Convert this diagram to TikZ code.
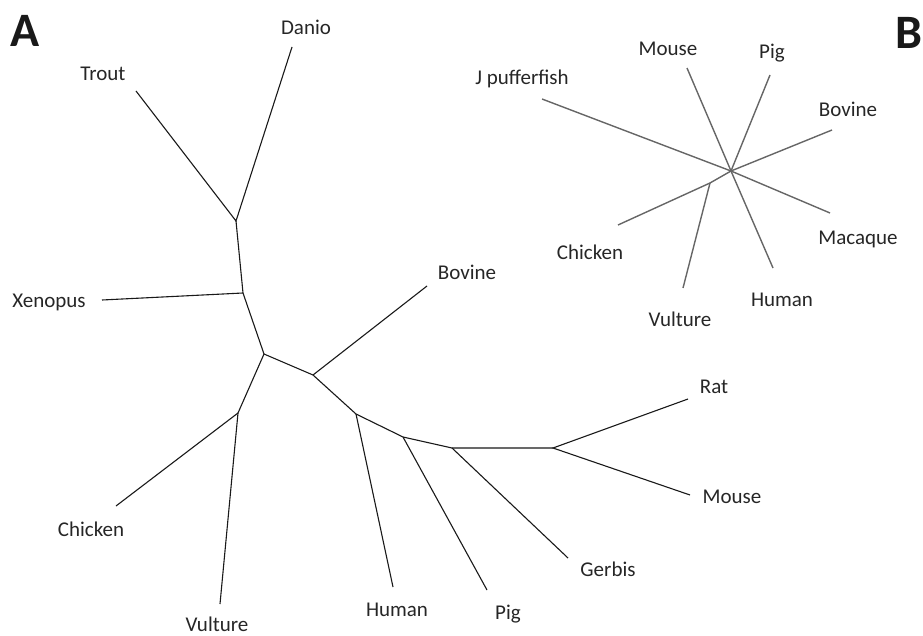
\documentclass[tikz,border=0pt]{standalone}
\usepackage{fontspec}
\setmainfont{Carlito}

\begin{document}
\begin{tikzpicture}[x=1pt,y=-1pt,
            lab/.style={font=\fontsize{21}{24}\selectfont, text=black!85, inner sep=0pt},
            tag/.style={font=\fontsize{48}{50}\selectfont\bfseries, text=black!90, inner sep=0pt},
            br/.style={line width=1.1pt, black!90},
            sb/.style={line width=1.4pt, black!60}]
            \useasboundingbox (0,0) rectangle (923,636);
            \node [tag] (pa) at (25,31) {A};
            \node [tag] (pb) at (909,33) {B};

            \coordinate (a1) at (236,221);
            \coordinate (a2) at (243,293);
            \coordinate (a3) at (264,354);
            \coordinate (a4) at (313,375);
            \coordinate (a5) at (238,413);
            \coordinate (a6) at (356,414);
            \coordinate (a7) at (403,437);
            \coordinate (a8) at (452,448);
            \coordinate (a9) at (553,448);
            \coordinate (danio-t) at (292,47);
            \coordinate (trout-t) at (136,91);
            \coordinate (xenopus-t) at (102,300);
            \coordinate (bovine-t) at (427,286);
            \coordinate (chicken-t) at (116,506);
            \coordinate (vulture-t) at (220,604);
            \coordinate (human-t) at (393,587);
            \coordinate (pig-t) at (487,590);
            \coordinate (gerbis-t) at (568,558);
            \coordinate (rat-t) at (688,399);
            \coordinate (mouse-t) at (690,495);
            \node [lab] (danio) at (306,27) {Danio};
            \node [lab] (trout) at (103,74) {Trout};
            \node [lab] (xenopus) at (49,302) {Xenopus};
            \node [lab] (bovine) at (467,272) {Bovine};
            \node [lab] (chicken) at (91,529) {Chicken};
            \node [lab] (vulture) at (217,624) {Vulture};
            \node [lab] (human) at (397,610) {Human};
            \node [lab] (pig) at (508,614) {Pig};
            \node [lab] (gerbis) at (608,569) {Gerbis};
            \node [lab] (rat) at (714,387) {Rat};
            \node [lab] (mouse) at (732,497) {Mouse};
            \draw [br] (trout-t) -- (a1) -- (danio-t);
            \draw [br] (a1) -- (a2) -- (a3) -- (a4) -- (a6) -- (a7) -- (a8) -- (a9);
            \draw [br] (xenopus-t) -- (a2);
            \draw [br] (a3) -- (a5) -- (chicken-t);
            \draw [br] (a5) -- (vulture-t);
            \draw [br] (a4) -- (bovine-t);
            \draw [br] (a6) -- (human-t);
            \draw [br] (a7) -- (pig-t);
            \draw [br] (a8) -- (gerbis-t);
            \draw [br] (rat-t) -- (a9) -- (mouse-t);

            \coordinate (b0) at (731,171);
            \coordinate (b1) at (710,183);
            \coordinate (jp-t) at (542,99);
            \coordinate (bmouse-t) at (687,68);
            \coordinate (bpig-t) at (770,75);
            \coordinate (bbovine-t) at (832,130);
            \coordinate (macaque-t) at (830,213);
            \coordinate (bhuman-t) at (773,268);
            \coordinate (bvulture-t) at (683,288);
            \coordinate (bchicken-t) at (618,225);
            \node [lab] (jp) at (522,79) {J pufferfish};
            \node [lab] (bmouse) at (668,49) {Mouse};
            \node [lab] (bpig) at (772,53) {Pig};
            \node [lab] (bbovine) at (848,109) {Bovine};
            \node [lab] (macaque) at (858,239) {Macaque};
            \node [lab] (bhuman) at (782,300) {Human};
            \node [lab] (bvulture) at (680,319) {Vulture};
            \node [lab] (bchicken) at (590,252) {Chicken};
            \draw [sb] (jp-t) -- (b0);
            \draw [sb] (bmouse-t) -- (b0);
            \draw [sb] (bpig-t) -- (b0);
            \draw [sb] (bbovine-t) -- (b0);
            \draw [sb] (macaque-t) -- (b0);
            \draw [sb] (bhuman-t) -- (b0);
            \draw [sb] (bchicken-t) -- (b1) -- (b0);
            \draw [sb] (bvulture-t) -- (b1);
\end{tikzpicture}
\end{document}
